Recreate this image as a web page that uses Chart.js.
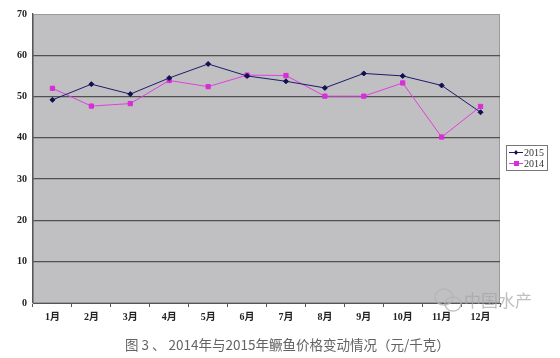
<!DOCTYPE html>
<html><head><meta charset="utf-8">
<script src="https://cdn.jsdelivr.net/npm/chart.js@4"></script>
<style>html,body{margin:0;padding:0;background:#fff}#wrap{width:560px;height:358px}</style>
</head><body><div id="wrap"><canvas id="c" width="560" height="358"></canvas></div>
<script>
const months = ['1月','2月','3月','4月','5月','6月','7月','8月','9月','10月','11月','12月'];
const price2015 = [49.2, 53.0, 50.6, 54.5, 57.9, 55.0, 53.7, 52.1, 55.6, 55.0, 52.7, 46.2];
const price2014 = [52.0, 47.7, 48.3, 53.9, 52.4, 55.2, 55.1, 50.1, 50.1, 53.3, 40.2, 47.6];
const seriesLabels = ['2015', '2014'];
const titleText = '图 3 、 2014年与2015年鳜鱼价格变动情况（元/千克）';
const watermarkText = '中国水产';

const plotBg = {
  id: 'plotBg',
  beforeDraw(chart) {
    const {ctx, chartArea: a} = chart;
    ctx.save();
    ctx.fillStyle = '#c0bfc1';
    ctx.fillRect(a.left, a.top, a.right - a.left, a.bottom - a.top);
    ctx.strokeStyle = '#9a9a9a';
    ctx.lineWidth = 1;
    ctx.strokeRect(a.left + 0.5, a.top + 0.5, a.right - a.left - 1, a.bottom - a.top - 1);
    ctx.restore();
  },
  afterDraw(chart) {
    const {ctx} = chart;
    ctx.save();
    // legend box
    const x0 = 506, y0 = 145, w = 41, h = 25;
    ctx.fillStyle = '#ffffff';
    ctx.fillRect(x0, y0, w, h);
    ctx.strokeStyle = '#777';
    ctx.lineWidth = 1;
    ctx.strokeRect(x0 + 0.5, y0 + 0.5, w, h);
    chart.data.datasets.forEach((ds, i) => {
      const y = y0 + 7 + i * 11;
      ctx.strokeStyle = ds.borderColor;
      ctx.beginPath(); ctx.moveTo(x0 + 3, y + 0.5); ctx.lineTo(x0 + 17, y + 0.5); ctx.stroke();
      ctx.fillStyle = ds.pointBackgroundColor;
      if (i === 0) {
        ctx.beginPath(); ctx.moveTo(x0 + 10, y - 2); ctx.lineTo(x0 + 12, y + 0.5); ctx.lineTo(x0 + 10, y + 3); ctx.lineTo(x0 + 8, y + 0.5); ctx.closePath(); ctx.fill();
      } else {
        ctx.fillRect(x0 + 8, y - 2, 5, 5);
      }
      ctx.fillStyle = '#333';
      ctx.font = '10px "Liberation Serif", serif';
      ctx.textBaseline = 'middle';
      ctx.fillText(ds.label, x0 + 18, y + 1);
    });
    // caption under the chart
    let fs = 13;
    ctx.font = `${fs}px "Noto Sans CJK SC", sans-serif`;
    const tw = ctx.measureText(titleText).width;
    fs = fs * 325 / tw;
    ctx.font = `${fs.toFixed(2)}px "Noto Sans CJK SC", sans-serif`;
    ctx.fillStyle = '#636363';
    ctx.textBaseline = 'middle';
    ctx.textAlign = 'left';
    ctx.fillText(titleText, 125, 345);
    // watermark
    ctx.fillStyle = 'rgba(165,165,165,0.7)';
    ctx.font = '17px "Noto Sans CJK SC", sans-serif';
    ctx.fillText(watermarkText, 464, 301);
    ctx.strokeStyle = 'rgba(180,180,180,0.8)';
    ctx.lineWidth = 1.5;
    ctx.beginPath(); ctx.ellipse(444, 297, 9, 8, 0, 0, Math.PI * 2); ctx.stroke();
    ctx.beginPath(); ctx.ellipse(453, 304, 8, 7, 0, 0, Math.PI * 2); ctx.stroke();
    ctx.restore();
  }
};

new Chart(document.getElementById('c'), {
  type: 'line',
  data: {
    labels: months,
    datasets: [
      { label: seriesLabels[0], data: price2015, borderColor: '#1c1c6e', backgroundColor: '#101050',
        pointBackgroundColor: '#101050', pointBorderColor: '#101050', pointStyle: 'rectRot', pointRadius: 2.5,
        borderWidth: 1, tension: 0 },
      { label: seriesLabels[1], data: price2014, borderColor: '#e040e0', backgroundColor: '#d030d0',
        pointBackgroundColor: '#d82ed8', pointBorderColor: '#d82ed8', pointStyle: 'rect', pointRadius: 3,
        borderWidth: 1, tension: 0 }
    ]
  },
  options: {
    responsive: false, animation: false,
    layout: { padding: { left: 0, right: 60, top: 14, bottom: 29 } },
    plugins: {
      legend: { display: false },
      tooltip: { enabled: false },
      title: { display: false }
    },
    scales: {
      x: {
        offset: true,
        grid: { offset: true, drawOnChartArea: false, drawTicks: true, tickLength: 4, color: '#555' },
        border: { color: '#555', width: 1 },
        ticks: { color: '#222', padding: 4, font: { family: '"Liberation Serif", "Noto Sans CJK SC", serif', size: 10, weight: 'bold' }, maxRotation: 0, autoSkip: false },
        afterFit(s) { s.height = 26; }
      },
      y: {
        min: 0, max: 70,
        ticks: { stepSize: 10, color: '#222', padding: 6, font: { family: '"Liberation Serif", serif', size: 10, weight: 'bold' } },
        grid: { color: (c) => c.tick && (c.tick.value === 0 || c.tick.value === 70) ? 'rgba(0,0,0,0)' : '#505050', lineWidth: 1.3, drawTicks: false },
        border: { color: '#555', width: 1.3 },
        afterFit(s) { s.width = 33; }
      }
    }
  },
  plugins: [plotBg]
});
</script>
</body></html>
